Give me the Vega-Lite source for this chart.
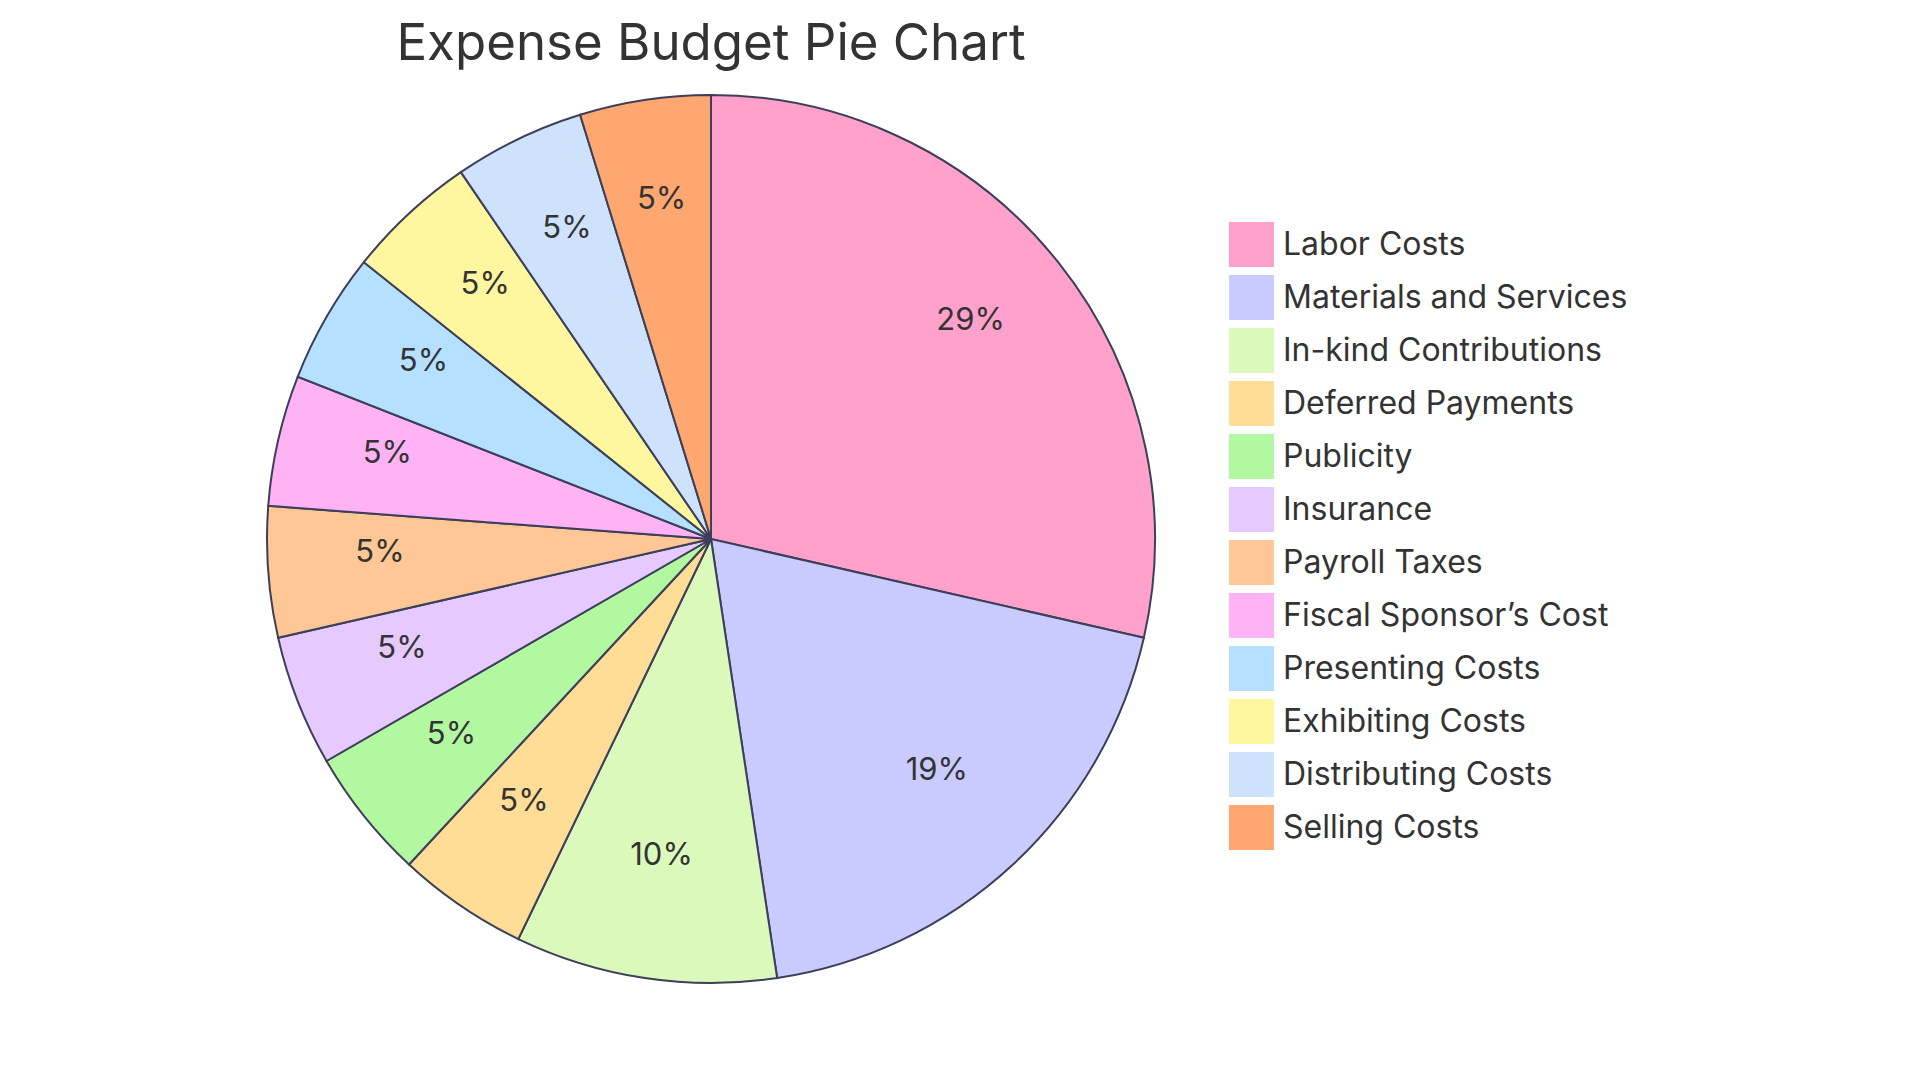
{
  "$schema": "https://vega.github.io/schema/vega-lite/v6.json",
  "width": 1422,
  "height": 1078,
  "autosize": {"type": "none"},
  "padding": {"left": 0, "top": 0, "right": 498, "bottom": 2},
  "background": "white",
  "title": {
    "text": "Expense Budget Pie Chart",
    "anchor": "middle",
    "frame": "group",
    "orient": "top",
    "offset": 0,
    "baseline": "alphabetic",
    "dy": 111,
    "dx": 0,
    "fontSize": 51,
    "fontWeight": "normal",
    "font": "Inter",
    "color": "#333333"
  },
  "data": {
    "values": [
      {"category": "Labor Costs", "value": 6, "order": 1, "pct": "29%"},
      {"category": "Materials and Services", "value": 4, "order": 2, "pct": "19%"},
      {"category": "In-kind Contributions", "value": 2, "order": 3, "pct": "10%"},
      {"category": "Deferred Payments", "value": 1, "order": 4, "pct": "5%"},
      {"category": "Publicity", "value": 1, "order": 5, "pct": "5%"},
      {"category": "Insurance", "value": 1, "order": 6, "pct": "5%"},
      {"category": "Payroll Taxes", "value": 1, "order": 7, "pct": "5%"},
      {"category": "Fiscal Sponsor’s Cost", "value": 1, "order": 8, "pct": "5%"},
      {"category": "Presenting Costs", "value": 1, "order": 9, "pct": "5%"},
      {"category": "Exhibiting Costs", "value": 1, "order": 10, "pct": "5%"},
      {"category": "Distributing Costs", "value": 1, "order": 11, "pct": "5%"},
      {"category": "Selling Costs", "value": 1, "order": 12, "pct": "5%"}
    ]
  },
  "encoding": {
    "theta": {"field": "value", "type": "quantitative", "stack": true},
    "order": {"field": "order", "type": "quantitative"},
    "color": {
      "field": "category",
      "type": "nominal",
      "scale": {
        "domain": ["Labor Costs", "Materials and Services", "In-kind Contributions", "Deferred Payments", "Publicity", "Insurance", "Payroll Taxes", "Fiscal Sponsor’s Cost", "Presenting Costs", "Exhibiting Costs", "Distributing Costs", "Selling Costs"],
        "range": ["#ffa1cb", "#c9cbff", "#dbf9bb", "#ffdd96", "#b2f8a1", "#e5c9ff", "#ffc795", "#ffb3f4", "#b6e0ff", "#fff6a0", "#cee2fd", "#ffa770"]
      },
      "legend": {
        "title": null,
        "orient": "none",
        "legendX": 1229,
        "legendY": 222,
        "padding": 0,
        "symbolType": "square",
        "symbolSize": 2025,
        "symbolStrokeWidth": 0,
        "symbolOpacity": 1,
        "labelFont": "Inter",
        "labelFontSize": 32,
        "labelColor": "#333333",
        "labelOffset": 9,
        "rowPadding": 8,
        "labelLimit": 600
      }
    }
  },
  "layer": [
    {
      "mark": {"type": "arc", "radius": 444, "stroke": "#3d3f5a", "strokeWidth": 2}
    },
    {
      "mark": {"type": "text", "radius": 332, "dy": -11, "font": "Inter", "fontSize": 31, "fill": "#333333", "align": "center", "baseline": "middle"},
      "encoding": {
        "text": {"field": "pct", "type": "nominal"},
        "color": {"value": "#333333"}
      }
    }
  ]
}
